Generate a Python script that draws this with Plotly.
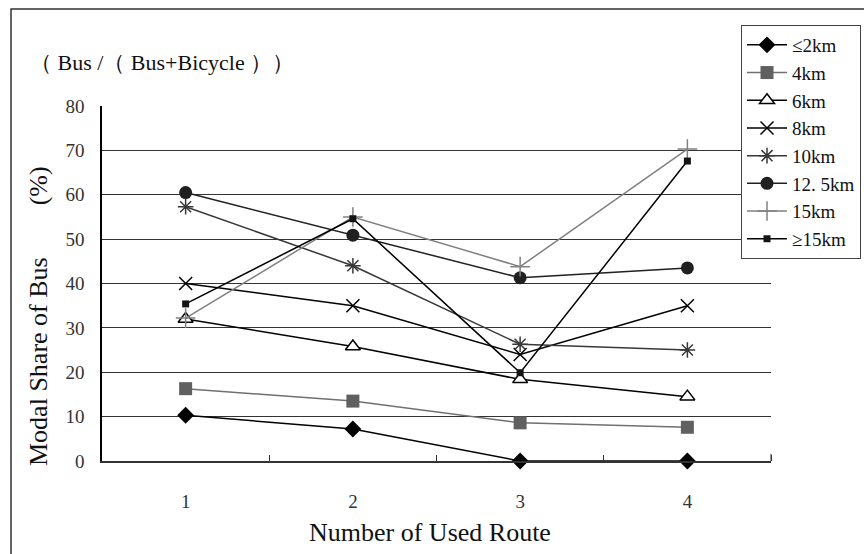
import plotly.graph_objects as go

routes = [1, 2, 3, 4]
series_names = ["≤2km", "4km", "6km", "8km", "10km", "12. 5km", "15km", "≥15km"]
v_le2 = [10.3, 7.2, 0, 0]
v_4 = [16.3, 13.5, 8.6, 7.6]
v_6 = [32.0, 25.8, 18.4, 14.5]
v_8 = [40.0, 35.0, 24.0, 35.0]
v_10 = [57.3, 44.0, 26.3, 25.0]
v_125 = [60.5, 50.9, 41.3, 43.5]
v_15 = [32.2, 55.0, 43.8, 70.3]
v_ge15 = [35.4, 54.6, 19.9, 67.6]
values = [v_le2, v_4, v_6, v_8, v_10, v_125, v_15, v_ge15]

styles = [
    dict(line=dict(color="#000000", width=1.5), marker=dict(symbol="diamond", size=13, color="#000000")),
    dict(line=dict(color="#707070", width=1.5), marker=dict(symbol="square", size=13, color="#606060")),
    dict(line=dict(color="#000000", width=1.5), marker=dict(symbol="triangle-up", size=13, color="#ffffff", line=dict(color="#000000", width=1.5))),
    dict(line=dict(color="#000000", width=1.5), marker=dict(symbol="x-thin", size=13, color="#000000", line=dict(color="#000000", width=1.5))),
    dict(line=dict(color="#383838", width=1.5), marker=dict(symbol="asterisk", size=13, color="#383838", line=dict(color="#383838", width=1.5))),
    dict(line=dict(color="#202020", width=1.5), marker=dict(symbol="circle", size=13, color="#202020")),
    dict(line=dict(color="#808080", width=1.5), marker=dict(symbol="cross-thin", size=14, color="#808080", line=dict(color="#808080", width=1.5))),
    dict(line=dict(color="#000000", width=1.5), marker=dict(symbol="square", size=7, color="#141414")),
]

W, H = 864, 554
L, R, T, B = 102, 93, 106, 93
pw, ph = W - L - R, H - T - B

def px(x):
    return (x - L) / pw

def py(y):
    return (H - B - y) / ph

fig = go.Figure()
for name, vals, st in zip(series_names, values, styles):
    fig.add_trace(go.Scatter(x=routes, y=vals, name=name, mode="lines+markers",
                             line=st["line"], marker=st["marker"], cliponaxis=False))

serif = "Liberation Serif"
fig.update_layout(
    width=W, height=H,
    margin=dict(l=L, r=R, t=T, b=B, autoexpand=False),
    paper_bgcolor="white", plot_bgcolor="white",
    font=dict(family=serif, size=18, color="#222"),
    showlegend=True,
    legend=dict(x=px(741), y=py(25), xanchor="left", yanchor="top",
                bgcolor="white", bordercolor="#444", borderwidth=1,
                font=dict(family=serif, size=19, color="#111"),
                tracegroupgap=0, itemwidth=40),
    xaxis=dict(range=[0.5, 4.5], tickmode="array", tickvals=routes,
               ticktext=[str(r) for r in routes], ticks="", showgrid=False,
               showline=True, linecolor="#333", linewidth=1.5, zeroline=False,
               ticklabelstandoff=22,
               tickfont=dict(family=serif, size=19, color="#333"),
               minor=dict(tickmode="array", tickvals=[1.5, 2.5, 3.5, 4.5], ticks="inside",
                          ticklen=6, tickcolor="#333", showgrid=False)),
    yaxis=dict(range=[0, 80], dtick=10, showgrid=True, gridcolor="#333", gridwidth=1,
               showline=True, linecolor="#000", linewidth=1.5, zeroline=False,
               ticks="", ticklabelstandoff=12,
               tickfont=dict(family=serif, size=19, color="#333")),
    annotations=[
        dict(text="（ Bus /（ Bus+Bicycle ））", x=px(28), y=py(63), xref="paper", yref="paper",
             xanchor="left", yanchor="middle", showarrow=False,
             font=dict(family=serif, size=22, color="#111")),
        dict(text="Modal Share of Bus　　(%)", x=px(38), y=py(316), xref="paper", yref="paper",
             xanchor="center", yanchor="middle", showarrow=False, textangle=-90,
             font=dict(family=serif, size=26, color="#111")),
        dict(text="Number of Used Route", x=px(430), y=py(532), xref="paper", yref="paper",
             xanchor="center", yanchor="middle", showarrow=False,
             font=dict(family=serif, size=26, color="#111")),
    ],
    shapes=[
        dict(type="rect", xref="paper", yref="paper", x0=px(11), x1=px(870), y0=py(570), y1=py(9),
             line=dict(color="#333", width=1.5), fillcolor="rgba(0,0,0,0)", layer="below"),
        dict(type="line", xref="paper", yref="paper", x0=1, x1=1, y0=0, y1=0.02,
             line=dict(color="#333", width=1)),
    ],
)

fig.write_html("out.html")
